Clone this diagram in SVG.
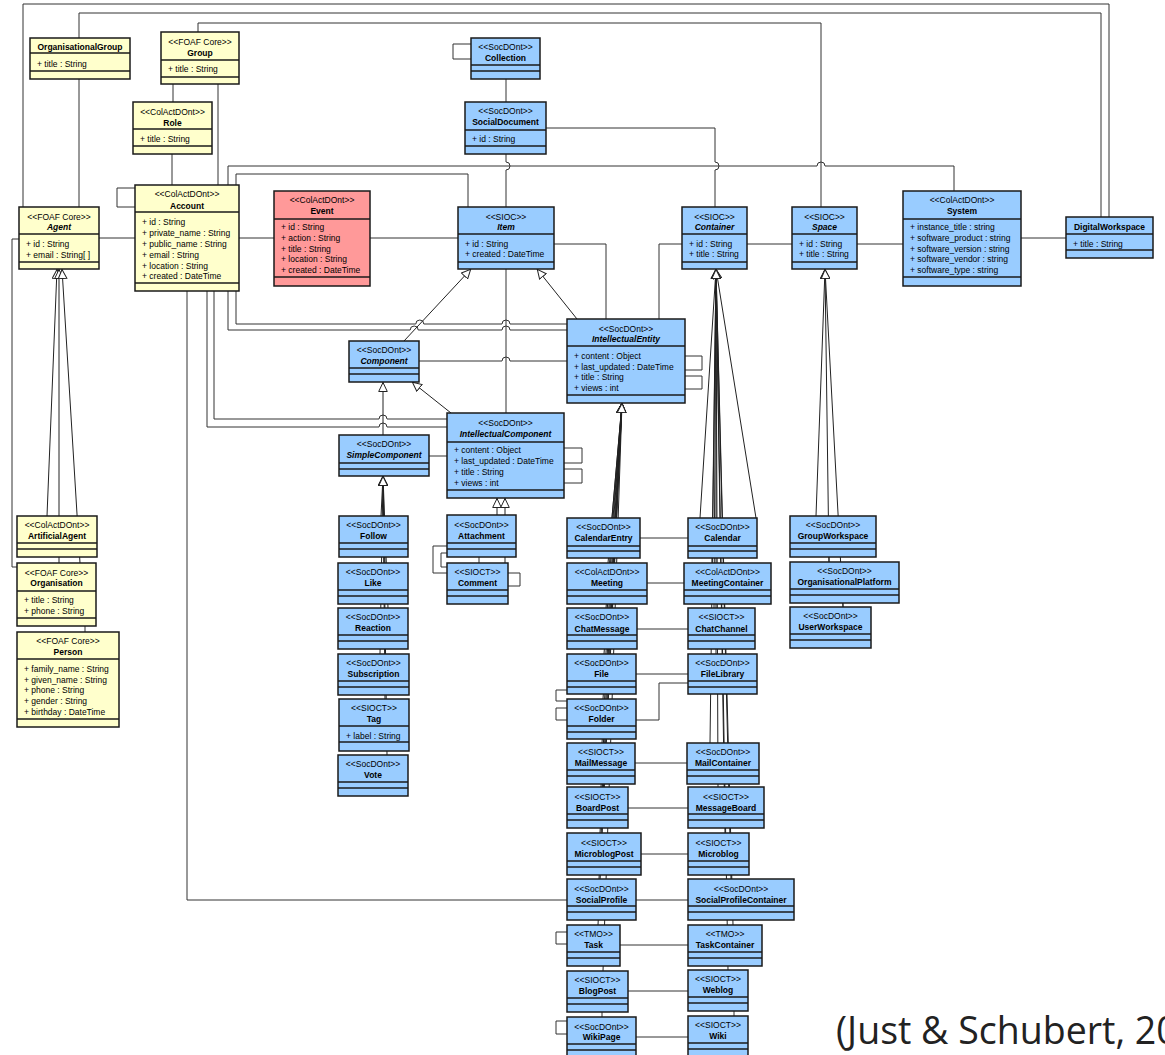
<svg xmlns="http://www.w3.org/2000/svg" width="1165" height="1055" viewBox="0 0 1165 1055">
<style>
.b{fill:#99CCFF;stroke:#1a1a1a;stroke-width:1.5}
.y{fill:#FFFFCC;stroke:#1a1a1a;stroke-width:1.5}
.r{fill:#FF9999;stroke:#1a1a1a;stroke-width:1.5}
.d{stroke:#1a1a1a;stroke-width:1.5}
text{font-family:"Liberation Sans",Arial,sans-serif;font-size:8.5px;fill:#000}
.st{text-anchor:middle}
.nm{text-anchor:middle;font-weight:bold}
.ab{font-style:italic}
.c{fill:none;stroke:#333;stroke-width:1}
.g{fill:none;stroke:#222;stroke-width:1;marker-end:url(#gen)}
.cap{font-family:"Open Sans","Noto Sans",sans-serif;font-size:37.5px;fill:#222}
</style>
<defs>
<marker id="gen" markerUnits="userSpaceOnUse" markerWidth="10" markerHeight="10" viewBox="0 0 10 10" refX="10" refY="5" orient="auto">
<path d="M0.5,0.7 L9.5,5 L0.5,9.3 z" fill="#fff" stroke="#222" stroke-width="1"/>
</marker>
</defs>
<rect x="0" y="0" width="1165" height="1055" fill="#fff"/>
<g id="connectors">
<path class="c" d="M23,207 V4 H1109 V217"/>
<path class="c" d="M79,38 V13 H1101 V217"/>
<path class="c" d="M198,32 V23 H821 V207"/>
<path class="c" d="M79,79 V207"/>
<path class="c" d="M173,84 V102"/>
<path class="c" d="M172,154 V185"/>
<path class="c" d="M218,84 V185"/>
<path class="c" d="M135,188 H117 V207 H135"/>
<path class="c" d="M99,238 H135"/>
<path class="c" d="M19,239 H12 V567 H17"/>
<path class="c" d="M239,238 H274"/>
<path class="c" d="M370,238 H458"/>
<path class="c" d="M236,185 V174 H468 V207"/>
<path class="c" d="M228,185 V166 H817 a4,4 0 0 1 8,0 H954 V191"/>
<path class="c" d="M471,44 H453 V59 H471"/>
<path class="c" d="M506,79 V102"/>
<path class="c" d="M506,154 V162 a4,4 0 0 1 0,8 V207"/>
<path class="c" d="M546,128 H715 V162 a4,4 0 0 1 0,8 V207"/>
<path class="c" d="M554,244 H606 V319"/>
<path class="c" d="M682,244 H659 V319"/>
<path class="c" d="M747,244 H792"/>
<path class="c" d="M857,244 H903"/>
<path class="c" d="M1021,238 H1066"/>
<path class="c" d="M506,269 V413"/>
<path class="c" d="M236,291 V324 H415.8 a4,4 0 0 1 8,0 H502 a4,4 0 0 1 8,0 H567"/>
<path class="c" d="M228,291 V330 H410.2 a4,4 0 0 1 8,0 H502 a4,4 0 0 1 8,0 H567"/>
<path class="c" d="M419,361 H502 a4,4 0 0 1 8,0 H567"/>
<path class="c" d="M214,291 V419 H379 a4,4 0 0 1 8,0 H447"/>
<path class="c" d="M207,291 V427 H379 a4,4 0 0 1 8,0 H447"/>
<path class="c" d="M187,291 V900 H567"/>
<path class="c" d="M429,456 H447"/>
<path class="c" d="M564,448 H582 V463 H564"/>
<path class="c" d="M564,469 H582 V483 H564"/>
<path class="c" d="M685,356 H702 V370 H685"/>
<path class="c" d="M685,376 H702 V389 H685"/>
<path class="c" d="M447,546 H433 V573 H447"/>
<path class="c" d="M447,553 H441 V567 H447"/>
<path class="c" d="M508,573 H520 V586 H508"/>
<path class="c" d="M479,557 V563"/>
<path class="c" d="M640,538 H688"/>
<path class="c" d="M647,583 H684"/>
<path class="c" d="M637,629 H688"/>
<path class="c" d="M636,674 H688"/>
<path class="c" d="M636,720 H659 V683 H688"/>
<path class="c" d="M567,690 H556 V701 H567"/>
<path class="c" d="M567,708 H556 V720 H567"/>
<path class="c" d="M635,763 H687"/>
<path class="c" d="M628,808 H688"/>
<path class="c" d="M641,854 H688"/>
<path class="c" d="M636,900 H688"/>
<path class="c" d="M620,945 H688"/>
<path class="c" d="M567,932 H556 V944 H567"/>
<path class="c" d="M628,991 H688"/>
<path class="c" d="M636,1037 H688"/>
<path class="c" d="M567,1021 H556 V1034 H567"/>
<path class="c" d="M602,1012 V1017"/>
<path class="c" d="M734,1011 V1016"/>
<path class="c" d="M85,626 V632"/>
<path class="c" d="M829,557 V562"/>
<path class="c" d="M843,603 V607"/>
<path class="g" d="M404,341 L471,269"/>
<path class="g" d="M577,319 L537,269"/>
<path class="g" d="M451,413 L412,382"/>
<path class="g" d="M383,435 V382"/>
<path class="g" d="M497,515 V498"/>
<path class="g" d="M505,563 V498"/>
<path class="g" d="M381,516 L383,476"/>
<path class="g" d="M385,563 L383,476"/>
<path class="g" d="M388,608 L383,476"/>
<path class="g" d="M380,654 L383,476"/>
<path class="g" d="M385,699 L383,476"/>
<path class="g" d="M387,755 L383,476"/>
<path class="g" d="M47,516 L57,269"/>
<path class="g" d="M59,563 L59,269"/>
<path class="g" d="M80,563 L62,269"/>
<path class="g" d="M816,516 L825,269"/>
<path class="g" d="M829,562 L825,269"/>
<path class="g" d="M843,607 L825,269"/>
<path class="g" d="M612,518 L622,403"/>
<path class="g" d="M608,563 L622,403"/>
<path class="g" d="M606,608 L622,403"/>
<path class="g" d="M604,654 L622,403"/>
<path class="g" d="M603,699 L622,403"/>
<path class="g" d="M602,743 L622,403"/>
<path class="g" d="M601,787 L622,403"/>
<path class="g" d="M600,833 L622,403"/>
<path class="g" d="M599,879 L622,403"/>
<path class="g" d="M598,925 L622,403"/>
<path class="g" d="M603,971 L622,403"/>
<path class="g" d="M700,518 L716,269"/>
<path class="g" d="M756,518 L716,269"/>
<path class="g" d="M712,563 L716,269"/>
<path class="g" d="M714,608 L716,269"/>
<path class="g" d="M716,654 L716,269"/>
<path class="g" d="M710,743 L716,269"/>
<path class="g" d="M718,787 L716,269"/>
<path class="g" d="M725,833 L716,269"/>
<path class="g" d="M731,879 L716,269"/>
<path class="g" d="M733,925 L716,269"/>
<path class="g" d="M728,970 L716,269"/>
</g>
<g id="n-organisationalgroup"><rect class="y" x="30" y="38" width="100" height="41"/><line class="d" x1="30" y1="53" x2="130" y2="53"/><line class="d" x1="30" y1="71" x2="130" y2="71"/><text class="nm" x="80" y="50">OrganisationalGroup</text><text x="37" y="67">+ title : String</text></g>
<g id="n-group"><rect class="y" x="161" y="32" width="78" height="52"/><line class="d" x1="161" y1="60" x2="239" y2="60"/><line class="d" x1="161" y1="77" x2="239" y2="77"/><text class="st" x="200" y="45">&lt;&lt;FOAF Core&gt;&gt;</text><text class="nm" x="200" y="56">Group</text><text x="168" y="72">+ title : String</text></g>
<g id="n-role"><rect class="y" x="133" y="102" width="79" height="52"/><line class="d" x1="133" y1="129" x2="212" y2="129"/><line class="d" x1="133" y1="146" x2="212" y2="146"/><text class="st" x="172.5" y="115">&lt;&lt;ColActDOnt&gt;&gt;</text><text class="nm" x="172.5" y="126">Role</text><text x="140" y="142">+ title : String</text></g>
<g id="n-account"><rect class="y" x="135" y="185" width="104" height="106"/><line class="d" x1="135" y1="212" x2="239" y2="212"/><line class="d" x1="135" y1="283" x2="239" y2="283"/><text class="st" x="187" y="197">&lt;&lt;ColActDOnt&gt;&gt;</text><text class="nm" x="187" y="209">Account</text><text x="142" y="225">+ id : String</text><text x="142" y="236">+ private_name : String</text><text x="142" y="247">+ public_name : String</text><text x="142" y="258">+ email : String</text><text x="142" y="269">+ location : String</text><text x="142" y="279">+ created : DateTime</text></g>
<g id="n-agent"><rect class="y" x="19" y="207" width="80" height="62"/><line class="d" x1="19" y1="234" x2="99" y2="234"/><line class="d" x1="19" y1="262" x2="99" y2="262"/><text class="st" x="59" y="220">&lt;&lt;FOAF Core&gt;&gt;</text><text class="nm ab" x="59" y="230">Agent</text><text x="26" y="247">+ id : String</text><text x="26" y="258">+ email : String[ ]</text></g>
<g id="n-event"><rect class="r" x="274" y="191" width="96" height="95"/><line class="d" x1="274" y1="219" x2="370" y2="219"/><line class="d" x1="274" y1="277" x2="370" y2="277"/><text class="st" x="322" y="203">&lt;&lt;ColActDOnt&gt;&gt;</text><text class="nm" x="322" y="214">Event</text><text x="281" y="230">+ id : String</text><text x="281" y="241">+ action : String</text><text x="281" y="252">+ title : String</text><text x="281" y="262">+ location : String</text><text x="281" y="273">+ created : DateTime</text></g>
<g id="n-collection"><rect class="b" x="471" y="38" width="69" height="41"/><line class="d" x1="471" y1="65" x2="540" y2="65"/><line class="d" x1="471" y1="71" x2="540" y2="71"/><text class="st" x="505.5" y="50">&lt;&lt;SocDOnt&gt;&gt;</text><text class="nm" x="505.5" y="61">Collection</text></g>
<g id="n-socialdocument"><rect class="b" x="465" y="102" width="81" height="52"/><line class="d" x1="465" y1="130" x2="546" y2="130"/><line class="d" x1="465" y1="146" x2="546" y2="146"/><text class="st" x="505.5" y="114">&lt;&lt;SocDOnt&gt;&gt;</text><text class="nm" x="505.5" y="125">SocialDocument</text><text x="472" y="142">+ id : String</text></g>
<g id="n-item"><rect class="b" x="458" y="207" width="96" height="62"/><line class="d" x1="458" y1="234" x2="554" y2="234"/><line class="d" x1="458" y1="262" x2="554" y2="262"/><text class="st" x="506" y="220">&lt;&lt;SIOC&gt;&gt;</text><text class="nm ab" x="506" y="230">Item</text><text x="465" y="247">+ id : String</text><text x="465" y="257">+ created : DateTime</text></g>
<g id="n-container"><rect class="b" x="682" y="207" width="65" height="62"/><line class="d" x1="682" y1="234" x2="747" y2="234"/><line class="d" x1="682" y1="262" x2="747" y2="262"/><text class="st" x="714.5" y="220">&lt;&lt;SIOC&gt;&gt;</text><text class="nm ab" x="714.5" y="230">Container</text><text x="689" y="247">+ id : String</text><text x="689" y="257">+ title : String</text></g>
<g id="n-space"><rect class="b" x="792" y="207" width="65" height="62"/><line class="d" x1="792" y1="234" x2="857" y2="234"/><line class="d" x1="792" y1="262" x2="857" y2="262"/><text class="st" x="824.5" y="220">&lt;&lt;SIOC&gt;&gt;</text><text class="nm ab" x="824.5" y="230">Space</text><text x="799" y="247">+ id : String</text><text x="799" y="257">+ title : String</text></g>
<g id="n-system"><rect class="b" x="903" y="191" width="118" height="95"/><line class="d" x1="903" y1="219" x2="1021" y2="219"/><line class="d" x1="903" y1="277" x2="1021" y2="277"/><text class="st" x="962" y="203">&lt;&lt;ColActDOnt&gt;&gt;</text><text class="nm" x="962" y="214">System</text><text x="910" y="230">+ instance_title : string</text><text x="910" y="241">+ software_product : string</text><text x="910" y="252">+ software_version : string</text><text x="910" y="262">+ software_vendor : string</text><text x="910" y="273">+ software_type : string</text></g>
<g id="n-digitalworkspace"><rect class="b" x="1066" y="217" width="87" height="41"/><line class="d" x1="1066" y1="234" x2="1153" y2="234"/><line class="d" x1="1066" y1="250" x2="1153" y2="250"/><text class="nm" x="1109.5" y="230">DigitalWorkspace</text><text x="1073" y="247">+ title : String</text></g>
<g id="n-component"><rect class="b" x="349" y="341" width="70" height="41"/><line class="d" x1="349" y1="368" x2="419" y2="368"/><line class="d" x1="349" y1="374" x2="419" y2="374"/><text class="st" x="384" y="353">&lt;&lt;SocDOnt&gt;&gt;</text><text class="nm ab" x="384" y="364">Component</text></g>
<g id="n-intellectualentity"><rect class="b" x="567" y="319" width="118" height="84"/><line class="d" x1="567" y1="346" x2="685" y2="346"/><line class="d" x1="567" y1="395" x2="685" y2="395"/><text class="st" x="626" y="332">&lt;&lt;SocDOnt&gt;&gt;</text><text class="nm ab" x="626" y="342">IntellectualEntity</text><text x="574" y="359">+ content : Object</text><text x="574" y="370">+ last_updated : DateTime</text><text x="574" y="380">+ title : String</text><text x="574" y="391">+ views : int</text></g>
<g id="n-intellectualcomponent"><rect class="b" x="447" y="413" width="117" height="85"/><line class="d" x1="447" y1="442" x2="564" y2="442"/><line class="d" x1="447" y1="490" x2="564" y2="490"/><text class="st" x="505.5" y="426">&lt;&lt;SocDOnt&gt;&gt;</text><text class="nm ab" x="505.5" y="437">IntellectualComponent</text><text x="454" y="453">+ content : Object</text><text x="454" y="464">+ last_updated : DateTime</text><text x="454" y="475">+ title : String</text><text x="454" y="486">+ views : int</text></g>
<g id="n-simplecomponent"><rect class="b" x="339" y="435" width="90" height="41"/><line class="d" x1="339" y1="463" x2="429" y2="463"/><line class="d" x1="339" y1="469" x2="429" y2="469"/><text class="st" x="384" y="447">&lt;&lt;SocDOnt&gt;&gt;</text><text class="nm ab" x="384" y="458">SimpleComponent</text></g>
<g id="n-follow"><rect class="b" x="339" y="516" width="69" height="41"/><line class="d" x1="339" y1="543" x2="408" y2="543"/><line class="d" x1="339" y1="549" x2="408" y2="549"/><text class="st" x="373.5" y="528">&lt;&lt;SocDOnt&gt;&gt;</text><text class="nm" x="373.5" y="539">Follow</text></g>
<g id="n-like"><rect class="b" x="338" y="563" width="70" height="41"/><line class="d" x1="338" y1="590" x2="408" y2="590"/><line class="d" x1="338" y1="596" x2="408" y2="596"/><text class="st" x="373" y="575">&lt;&lt;SocDOnt&gt;&gt;</text><text class="nm" x="373" y="586">Like</text></g>
<g id="n-reaction"><rect class="b" x="338" y="608" width="70" height="41"/><line class="d" x1="338" y1="635" x2="408" y2="635"/><line class="d" x1="338" y1="641" x2="408" y2="641"/><text class="st" x="373" y="620">&lt;&lt;SocDOnt&gt;&gt;</text><text class="nm" x="373" y="631">Reaction</text></g>
<g id="n-subscription"><rect class="b" x="338" y="654" width="71" height="41"/><line class="d" x1="338" y1="681" x2="409" y2="681"/><line class="d" x1="338" y1="687" x2="409" y2="687"/><text class="st" x="373.5" y="666">&lt;&lt;SocDOnt&gt;&gt;</text><text class="nm" x="373.5" y="677">Subscription</text></g>
<g id="n-tag"><rect class="b" x="339" y="699" width="70" height="52"/><line class="d" x1="339" y1="726" x2="409" y2="726"/><line class="d" x1="339" y1="742" x2="409" y2="742"/><text class="st" x="374" y="711">&lt;&lt;SIOCT&gt;&gt;</text><text class="nm" x="374" y="722">Tag</text><text x="346" y="739">+ label : String</text></g>
<g id="n-vote"><rect class="b" x="338" y="755" width="70" height="41"/><line class="d" x1="338" y1="782" x2="408" y2="782"/><line class="d" x1="338" y1="788" x2="408" y2="788"/><text class="st" x="373" y="767">&lt;&lt;SocDOnt&gt;&gt;</text><text class="nm" x="373" y="778">Vote</text></g>
<g id="n-attachment"><rect class="b" x="447" y="515" width="69" height="42"/><line class="d" x1="447" y1="543" x2="516" y2="543"/><line class="d" x1="447" y1="549" x2="516" y2="549"/><text class="st" x="481.5" y="528">&lt;&lt;SocDOnt&gt;&gt;</text><text class="nm" x="481.5" y="539">Attachment</text></g>
<g id="n-comment"><rect class="b" x="447" y="563" width="61" height="41"/><line class="d" x1="447" y1="590" x2="508" y2="590"/><line class="d" x1="447" y1="596" x2="508" y2="596"/><text class="st" x="477.5" y="575">&lt;&lt;SIOCT&gt;&gt;</text><text class="nm" x="477.5" y="586">Comment</text></g>
<g id="n-calendarentry"><rect class="b" x="567" y="518" width="73" height="40"/><line class="d" x1="567" y1="546" x2="640" y2="546"/><line class="d" x1="567" y1="551" x2="640" y2="551"/><text class="st" x="603.5" y="530">&lt;&lt;SocDOnt&gt;&gt;</text><text class="nm" x="603.5" y="541">CalendarEntry</text></g>
<g id="n-calendar"><rect class="b" x="688" y="518" width="69" height="40"/><line class="d" x1="688" y1="546" x2="757" y2="546"/><line class="d" x1="688" y1="551" x2="757" y2="551"/><text class="st" x="722.5" y="530">&lt;&lt;SocDOnt&gt;&gt;</text><text class="nm" x="722.5" y="541">Calendar</text></g>
<g id="n-meeting"><rect class="b" x="567" y="563" width="80" height="41"/><line class="d" x1="567" y1="590" x2="647" y2="590"/><line class="d" x1="567" y1="596" x2="647" y2="596"/><text class="st" x="607" y="575">&lt;&lt;ColActDOnt&gt;&gt;</text><text class="nm" x="607" y="586">Meeting</text></g>
<g id="n-meetingcontainer"><rect class="b" x="684" y="563" width="87" height="41"/><line class="d" x1="684" y1="590" x2="771" y2="590"/><line class="d" x1="684" y1="596" x2="771" y2="596"/><text class="st" x="727.5" y="575">&lt;&lt;ColActDOnt&gt;&gt;</text><text class="nm" x="727.5" y="586">MeetingContainer</text></g>
<g id="n-chatmessage"><rect class="b" x="567" y="608" width="70" height="41"/><line class="d" x1="567" y1="635" x2="637" y2="635"/><line class="d" x1="567" y1="641" x2="637" y2="641"/><text class="st" x="602" y="620">&lt;&lt;SocDOnt&gt;&gt;</text><text class="nm" x="602" y="632">ChatMessage</text></g>
<g id="n-chatchannel"><rect class="b" x="688" y="608" width="67" height="41"/><line class="d" x1="688" y1="635" x2="755" y2="635"/><line class="d" x1="688" y1="641" x2="755" y2="641"/><text class="st" x="721.5" y="620">&lt;&lt;SIOCT&gt;&gt;</text><text class="nm" x="721.5" y="632">ChatChannel</text></g>
<g id="n-file"><rect class="b" x="567" y="654" width="69" height="40"/><line class="d" x1="567" y1="681" x2="636" y2="681"/><line class="d" x1="567" y1="687" x2="636" y2="687"/><text class="st" x="601.5" y="666">&lt;&lt;SocDOnt&gt;&gt;</text><text class="nm" x="601.5" y="677">File</text></g>
<g id="n-filelibrary"><rect class="b" x="688" y="654" width="69" height="40"/><line class="d" x1="688" y1="681" x2="757" y2="681"/><line class="d" x1="688" y1="687" x2="757" y2="687"/><text class="st" x="722.5" y="666">&lt;&lt;SocDOnt&gt;&gt;</text><text class="nm" x="722.5" y="677">FileLibrary</text></g>
<g id="n-folder"><rect class="b" x="567" y="699" width="69" height="40"/><line class="d" x1="567" y1="726" x2="636" y2="726"/><line class="d" x1="567" y1="732" x2="636" y2="732"/><text class="st" x="601.5" y="711">&lt;&lt;SocDOnt&gt;&gt;</text><text class="nm" x="601.5" y="722">Folder</text></g>
<g id="n-mailmessage"><rect class="b" x="567" y="743" width="68" height="41"/><line class="d" x1="567" y1="770" x2="635" y2="770"/><line class="d" x1="567" y1="776" x2="635" y2="776"/><text class="st" x="601" y="755">&lt;&lt;SIOCT&gt;&gt;</text><text class="nm" x="601" y="766">MailMessage</text></g>
<g id="n-mailcontainer"><rect class="b" x="687" y="743" width="72" height="41"/><line class="d" x1="687" y1="770" x2="759" y2="770"/><line class="d" x1="687" y1="776" x2="759" y2="776"/><text class="st" x="723" y="755">&lt;&lt;SocDOnt&gt;&gt;</text><text class="nm" x="723" y="766">MailContainer</text></g>
<g id="n-boardpost"><rect class="b" x="567" y="787" width="61" height="41"/><line class="d" x1="567" y1="814" x2="628" y2="814"/><line class="d" x1="567" y1="820" x2="628" y2="820"/><text class="st" x="597.5" y="800">&lt;&lt;SIOCT&gt;&gt;</text><text class="nm" x="597.5" y="811">BoardPost</text></g>
<g id="n-messageboard"><rect class="b" x="688" y="787" width="76" height="41"/><line class="d" x1="688" y1="814" x2="764" y2="814"/><line class="d" x1="688" y1="820" x2="764" y2="820"/><text class="st" x="726" y="800">&lt;&lt;SIOCT&gt;&gt;</text><text class="nm" x="726" y="811">MessageBoard</text></g>
<g id="n-microblogpost"><rect class="b" x="567" y="833" width="74" height="42"/><line class="d" x1="567" y1="861" x2="641" y2="861"/><line class="d" x1="567" y1="867" x2="641" y2="867"/><text class="st" x="604" y="846">&lt;&lt;SIOCT&gt;&gt;</text><text class="nm" x="604" y="857">MicroblogPost</text></g>
<g id="n-microblog"><rect class="b" x="688" y="833" width="61" height="42"/><line class="d" x1="688" y1="861" x2="749" y2="861"/><line class="d" x1="688" y1="867" x2="749" y2="867"/><text class="st" x="718.5" y="846">&lt;&lt;SIOCT&gt;&gt;</text><text class="nm" x="718.5" y="857">Microblog</text></g>
<g id="n-socialprofile"><rect class="b" x="567" y="879" width="69" height="41"/><line class="d" x1="567" y1="906" x2="636" y2="906"/><line class="d" x1="567" y1="912" x2="636" y2="912"/><text class="st" x="601.5" y="892">&lt;&lt;SocDOnt&gt;&gt;</text><text class="nm" x="601.5" y="903">SocialProfile</text></g>
<g id="n-socialprofilecontainer"><rect class="b" x="688" y="879" width="106" height="41"/><line class="d" x1="688" y1="906" x2="794" y2="906"/><line class="d" x1="688" y1="912" x2="794" y2="912"/><text class="st" x="741" y="892">&lt;&lt;SocDOnt&gt;&gt;</text><text class="nm" x="741" y="903">SocialProfileContainer</text></g>
<g id="n-task"><rect class="b" x="567" y="925" width="53" height="41"/><line class="d" x1="567" y1="952" x2="620" y2="952"/><line class="d" x1="567" y1="958" x2="620" y2="958"/><text class="st" x="593.5" y="937">&lt;&lt;TMO&gt;&gt;</text><text class="nm" x="593.5" y="948">Task</text></g>
<g id="n-taskcontainer"><rect class="b" x="688" y="925" width="74" height="41"/><line class="d" x1="688" y1="952" x2="762" y2="952"/><line class="d" x1="688" y1="958" x2="762" y2="958"/><text class="st" x="725" y="937">&lt;&lt;TMO&gt;&gt;</text><text class="nm" x="725" y="948">TaskContainer</text></g>
<g id="n-blogpost"><rect class="b" x="567" y="971" width="61" height="41"/><line class="d" x1="567" y1="998" x2="628" y2="998"/><line class="d" x1="567" y1="1004" x2="628" y2="1004"/><text class="st" x="597.5" y="983">&lt;&lt;SIOCT&gt;&gt;</text><text class="nm" x="597.5" y="994">BlogPost</text></g>
<g id="n-weblog"><rect class="b" x="688" y="970" width="60" height="41"/><line class="d" x1="688" y1="997" x2="748" y2="997"/><line class="d" x1="688" y1="1003" x2="748" y2="1003"/><text class="st" x="718" y="982">&lt;&lt;SIOCT&gt;&gt;</text><text class="nm" x="718" y="993">Weblog</text></g>
<g id="n-wikipage"><rect class="b" x="567" y="1017" width="69" height="41"/><line class="d" x1="567" y1="1044" x2="636" y2="1044"/><line class="d" x1="567" y1="1050" x2="636" y2="1050"/><text class="st" x="601.5" y="1030">&lt;&lt;SocDOnt&gt;&gt;</text><text class="nm" x="601.5" y="1040">WikiPage</text></g>
<g id="n-wiki"><rect class="b" x="688" y="1016" width="60" height="41"/><line class="d" x1="688" y1="1043" x2="748" y2="1043"/><line class="d" x1="688" y1="1049" x2="748" y2="1049"/><text class="st" x="718" y="1028">&lt;&lt;SIOCT&gt;&gt;</text><text class="nm" x="718" y="1039">Wiki</text></g>
<g id="n-groupworkspace"><rect class="b" x="790" y="516" width="86" height="41"/><line class="d" x1="790" y1="543" x2="876" y2="543"/><line class="d" x1="790" y1="549" x2="876" y2="549"/><text class="st" x="833" y="528">&lt;&lt;SocDOnt&gt;&gt;</text><text class="nm" x="833" y="539">GroupWorkspace</text></g>
<g id="n-organisationalplatform"><rect class="b" x="790" y="562" width="109" height="41"/><line class="d" x1="790" y1="589" x2="899" y2="589"/><line class="d" x1="790" y1="595" x2="899" y2="595"/><text class="st" x="844.5" y="574">&lt;&lt;SocDOnt&gt;&gt;</text><text class="nm" x="844.5" y="585">OrganisationalPlatform</text></g>
<g id="n-userworkspace"><rect class="b" x="790" y="607" width="81" height="41"/><line class="d" x1="790" y1="634" x2="871" y2="634"/><line class="d" x1="790" y1="640" x2="871" y2="640"/><text class="st" x="830.5" y="619">&lt;&lt;SocDOnt&gt;&gt;</text><text class="nm" x="830.5" y="630">UserWorkspace</text></g>
<g id="n-artificialagent"><rect class="y" x="17" y="516" width="80" height="41"/><line class="d" x1="17" y1="543" x2="97" y2="543"/><line class="d" x1="17" y1="549" x2="97" y2="549"/><text class="st" x="57" y="528">&lt;&lt;ColActDOnt&gt;&gt;</text><text class="nm" x="57" y="539">ArtificialAgent</text></g>
<g id="n-organisation"><rect class="y" x="17" y="563" width="79" height="63"/><line class="d" x1="17" y1="591" x2="96" y2="591"/><line class="d" x1="17" y1="618" x2="96" y2="618"/><text class="st" x="56.5" y="576">&lt;&lt;FOAF Core&gt;&gt;</text><text class="nm" x="56.5" y="586">Organisation</text><text x="24" y="603">+ title : String</text><text x="24" y="614">+ phone : String</text></g>
<g id="n-person"><rect class="y" x="17" y="632" width="102" height="95"/><line class="d" x1="17" y1="659" x2="119" y2="659"/><line class="d" x1="17" y1="719" x2="119" y2="719"/><text class="st" x="68" y="644">&lt;&lt;FOAF Core&gt;&gt;</text><text class="nm" x="68" y="655">Person</text><text x="24" y="672">+ family_name : String</text><text x="24" y="683">+ given_name : String</text><text x="24" y="693">+ phone : String</text><text x="24" y="704">+ gender : String</text><text x="24" y="715">+ birthday : DateTime</text></g>
<text class="cap" x="836" y="1044">(Just &amp; Schubert, 20</text>
</svg>
